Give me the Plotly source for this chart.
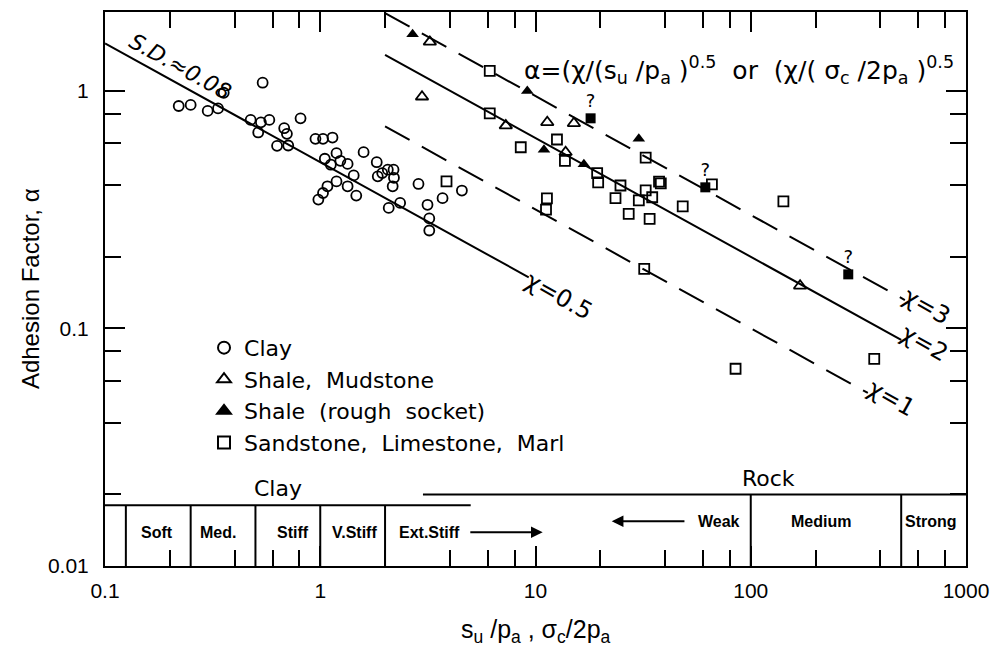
import numpy as np
import plotly.graph_objects as go

# ---------------- data ----------------
clay_x = [0.54, 0.22, 0.25, 0.30, 0.335, 0.356, 0.475, 0.53, 0.58, 0.515, 0.68, 0.70,
          0.63, 0.71, 0.81, 0.95, 1.03, 1.14, 1.05, 1.12, 1.19, 1.24, 1.34, 1.43,
          1.19, 1.34, 1.47, 1.08, 1.03, 0.98, 1.59, 1.83, 1.85, 1.94, 2.06, 2.19,
          2.2, 2.17, 2.08, 2.35, 2.86, 3.15, 3.21, 3.21, 3.70, 4.55]
clay_y = [1.08, 0.862, 0.871, 0.822, 0.842, 0.98, 0.753, 0.736, 0.753, 0.667, 0.695, 0.658,
          0.586, 0.588, 0.765, 0.627, 0.627, 0.635, 0.517, 0.488, 0.546, 0.507, 0.492, 0.440,
          0.415, 0.396, 0.362, 0.396, 0.371, 0.348, 0.551, 0.500, 0.436, 0.450, 0.465, 0.465,
          0.43, 0.396, 0.321, 0.337, 0.405, 0.331, 0.290, 0.258, 0.353, 0.380]

shale_x = [3.23, 2.97, 7.28, 11.34, 15.08, 13.80, 169.5]
shale_y = [1.604, 0.943, 0.713, 0.736, 0.729, 0.551, 0.151]

rough_x = [2.685, 9.16, 10.95, 16.78, 30.2]
rough_y = [1.728, 0.997, 0.564, 0.490, 0.627]

query_x = [18.03, 61.5, 283.8]
query_y = [0.765, 0.392, 0.1687]
query_text = ["?", "?", "?"]

sand_x = [6.13, 6.13, 3.86, 8.54, 12.58, 13.70, 19.34, 19.55, 24.82, 23.53, 30.2, 32.5,
          34.85, 38.2, 37.5, 27.1, 33.9, 48.3, 32.5, 11.3, 11.19, 32.0, 66.0, 141.8, 85.0, 374.7]
sand_y = [1.212, 0.803, 0.415, 0.578, 0.623, 0.507, 0.450, 0.411, 0.399, 0.353, 0.3455, 0.3805,
          0.356, 0.407, 0.414, 0.303, 0.289, 0.326, 0.523, 0.352, 0.316, 0.178, 0.403, 0.342,
          0.0676, 0.0744]

# trend lines  alpha = chi / (x)^0.5
chi_values = [0.5, 1, 2, 3]
chi_x_start = [0.1, 2, 2, 2]
chi_x_end = [9.3, 350, 500, 520]
chi_dash = ["solid", "28px,14px", "solid", "28px,14px"]
chi_labels = ["χ=0.5", "χ=1", "χ=2", "χ=3"]
chi_label_x = [12.85, 449, 640, 653]
chi_label_y = [0.137, 0.0511, 0.0869, 0.124]

# consistency / strength band
clay_bounds = [0.125, 0.25, 0.5, 1, 2]
rock_bounds = [100, 500]
clay_band_top = 0.018
clay_band_end = 5
rock_band_top = 0.02
rock_band_start = 3
band_bottom = 0.01
clay_cells = ["Soft", "Med.", "Stiff", "V.Stiff", "Ext.Stiff"]
clay_cell_x = [0.174, 0.334, 0.744, 1.44, 3.21]
clay_cell_y = 0.01387
rock_cells = ["Weak", "Medium", "Strong"]
rock_cell_x = [70.9, 212.8, 688]
rock_cell_y = 0.01543

x_tick_vals = [0.1, 1, 10, 100, 1000]
x_tick_text = ["0.1", "1", "10", "100", "1000"]
x_minor_vals = [0.2, 0.4, 0.6, 0.8, 2, 4, 6, 8, 20, 40, 60, 80, 200, 400, 600, 800]
y_tick_vals = [0.01, 0.1, 1]
y_tick_text = ["0.01", "0.1", "1"]
y_minor_vals = [0.02, 0.04, 0.06, 0.08, 0.2, 0.4, 0.6, 0.8]

FONT = "Liberation Sans"
TXT = "DejaVu Sans"
BLACK = "black"

fig = go.Figure()

# trend lines
for chi, xs, xe, dash in zip(chi_values, chi_x_start, chi_x_end, chi_dash):
    xx = [xs, xe]
    yy = [chi / np.sqrt(v) for v in xx]
    fig.add_trace(go.Scatter(x=xx, y=yy, mode="lines", showlegend=False,
                             line=dict(color=BLACK, width=2, dash=dash), hoverinfo="skip"))

# band lines
fig.add_trace(go.Scatter(x=[0.1, clay_band_end], y=[clay_band_top, clay_band_top], mode="lines",
                         showlegend=False, line=dict(color=BLACK, width=2)))
fig.add_trace(go.Scatter(x=[rock_band_start, 1000], y=[rock_band_top, rock_band_top], mode="lines",
                         showlegend=False, line=dict(color=BLACK, width=2)))
for b in clay_bounds:
    fig.add_trace(go.Scatter(x=[b, b], y=[band_bottom, clay_band_top], mode="lines",
                             showlegend=False, line=dict(color=BLACK, width=2)))
for b in rock_bounds:
    fig.add_trace(go.Scatter(x=[b, b], y=[band_bottom, rock_band_top], mode="lines",
                             showlegend=False, line=dict(color=BLACK, width=2)))

MS = 10
mline = dict(color=BLACK, width=1.8)
fig.add_trace(go.Scatter(x=clay_x, y=clay_y, mode="markers", showlegend=False,
                         marker=dict(symbol="circle-open", size=MS, color=BLACK, line=mline)))
fig.add_trace(go.Scatter(x=shale_x, y=shale_y, mode="markers", showlegend=False,
                         marker=dict(symbol="triangle-up-open", size=11, color=BLACK, line=mline)))
fig.add_trace(go.Scatter(x=rough_x, y=rough_y, mode="markers", showlegend=False,
                         marker=dict(symbol="triangle-up", size=11, color=BLACK)))
fig.add_trace(go.Scatter(x=sand_x, y=sand_y, mode="markers", showlegend=False,
                         marker=dict(symbol="square-open", size=MS, color=BLACK, line=mline)))
fig.add_trace(go.Scatter(x=query_x, y=query_y, mode="markers+text", showlegend=False,
                         text=query_text, textposition="top center",
                         textfont=dict(family=TXT, size=18, color=BLACK),
                         marker=dict(symbol="square", size=10, color=BLACK)))

# legend entries
leg = [("Clay", "circle-open"), ("Shale,  Mudstone", "triangle-up-open"),
       ("Shale  (rough  socket)", "triangle-up"), ("Sandstone,  Limestone,  Marl", "square-open")]
for name, sym in leg:
    fig.add_trace(go.Scatter(x=[None], y=[None], mode="markers", name=name,
                             marker=dict(symbol=sym, size=7, color=BLACK,
                                         line=dict(color=BLACK, width=1.5))))

ann = []
L = np.log10
for lab, lx, ly in zip(chi_labels, chi_label_x, chi_label_y):
    ann.append(dict(x=L(lx), y=L(ly), text=lab, showarrow=False, textangle=29,
                    font=dict(family=TXT, size=24, color=BLACK)))
ann.append(dict(x=L(0.223), y=L(1.26), text="<i>S.D.≈0.08</i>", showarrow=False, textangle=29,
                font=dict(family=TXT, size=22, color=BLACK)))
ann.append(dict(x=L(8.66), y=L(1.224), xanchor="left",
                text="α=(χ/(s<sub>u</sub> /p<sub>a</sub> )<sup>0.5</sup>  or  (χ/( σ<sub>c</sub> /2p<sub>a</sub> )<sup>0.5</sup>",
                showarrow=False, font=dict(family=TXT, size=25, color=BLACK)))
for t, cx in zip(clay_cells, clay_cell_x):
    ann.append(dict(x=L(cx), y=L(clay_cell_y), text="<b>" + t + "</b>", showarrow=False,
                    font=dict(family=FONT, size=16, color=BLACK)))
for t, cx in zip(rock_cells, rock_cell_x):
    ann.append(dict(x=L(cx), y=L(rock_cell_y), text="<b>" + t + "</b>", showarrow=False,
                    font=dict(family=FONT, size=16, color=BLACK)))
ann.append(dict(x=L(0.634), y=L(0.0212), text="Clay", showarrow=False,
                font=dict(family=TXT, size=22, color=BLACK)))
ann.append(dict(x=L(120.8), y=L(0.0234), text="Rock", showarrow=False,
                font=dict(family=TXT, size=22, color=BLACK)))
# arrows
ann.append(dict(x=L(10.8), y=L(clay_cell_y), ax=L(4.9), ay=L(clay_cell_y), axref="x", ayref="y",
                text="", showarrow=True, arrowhead=2, arrowsize=1.3, arrowwidth=1.8, arrowcolor=BLACK))
ann.append(dict(x=L(22.6), y=L(rock_cell_y), ax=L(50), ay=L(rock_cell_y), axref="x", ayref="y",
                text="", showarrow=True, arrowhead=2, arrowsize=1.3, arrowwidth=1.8, arrowcolor=BLACK))
# axis titles
ann.append(dict(xref="paper", yref="paper", x=-0.087, y=0.5, xanchor="center", yanchor="middle",
                textangle=-90, text="Adhesion Factor, α", showarrow=False,
                font=dict(family=FONT, size=24, color=BLACK)))
ann.append(dict(xref="paper", yref="paper", x=0.5, y=-0.118, xanchor="center", yanchor="middle",
                text="s<sub>u</sub> /p<sub>a</sub> , σ<sub>c</sub>/2p<sub>a</sub>", showarrow=False,
                font=dict(family=FONT, size=25, color=BLACK)))

axis_common = dict(type="log", showline=True, linewidth=2, linecolor=BLACK, mirror="ticks",
                   ticks="inside", ticklen=20, tickwidth=1.5, tickcolor=BLACK, showgrid=False,
                   zeroline=False, tickfont=dict(family=FONT, size=21, color=BLACK))

fig.update_layout(
    width=999, height=656,
    margin=dict(l=105, r=31, t=10, b=90),
    paper_bgcolor="white", plot_bgcolor="white",
    xaxis=dict(range=[-1, 3], tickvals=x_tick_vals, ticktext=x_tick_text,
               minor=dict(tickvals=x_minor_vals, ticklen=16, tickwidth=1.5, tickcolor=BLACK,
                          ticks="inside", showgrid=False),
               ticklabelstandoff=5, **axis_common),
    yaxis=dict(range=[-2, 0.331], tickvals=y_tick_vals, ticktext=y_tick_text,
               minor=dict(tickvals=y_minor_vals, ticklen=16, tickwidth=1.5, tickcolor=BLACK,
                          ticks="inside", showgrid=False),
               ticklabelstandoff=10, **axis_common),
    legend=dict(x=0.115, y=0.4317, xanchor="left", yanchor="top", bgcolor="rgba(0,0,0,0)",
                font=dict(family=TXT, size=22, color=BLACK), itemsizing="constant",
                tracegroupgap=0),
    annotations=ann,
    showlegend=True,
)

fig.write_html("out.html")
